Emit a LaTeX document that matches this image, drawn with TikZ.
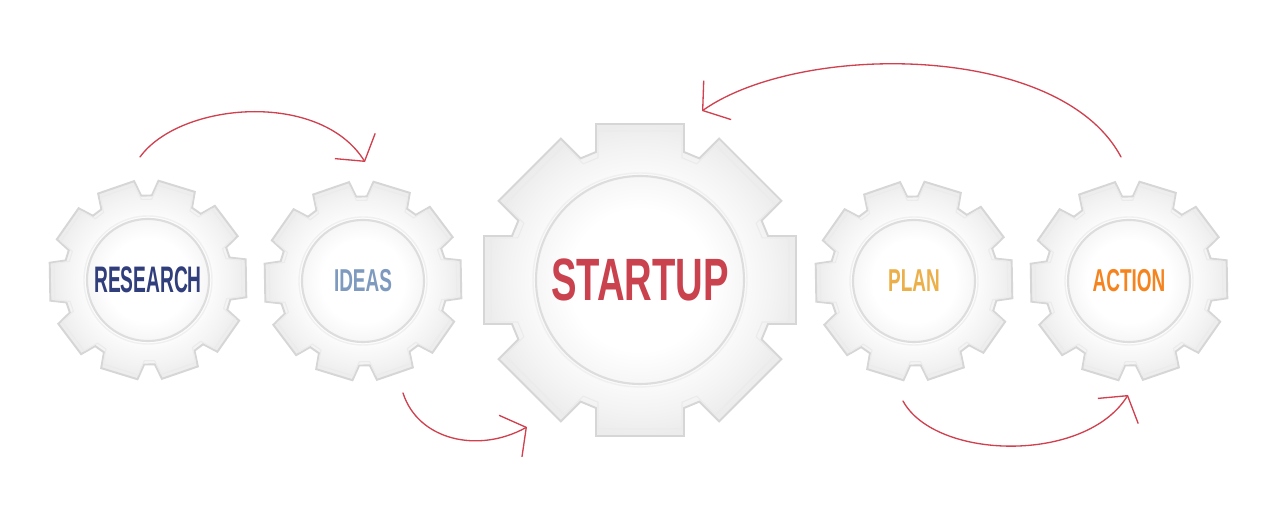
\documentclass[tikz,border=0pt]{standalone}
\usepackage{fontspec}
\usepackage{tikz}
\usetikzlibrary{arrows.meta}                % arrow tips

\newfontfamily\gearfont[FakeStretch=0.6]{Liberation Sans}
\newfontfamily\gearfontnarrow[FakeStretch=0.52]{Liberation Sans}
\newfontfamily\gearfontwide[FakeStretch=0.64]{Liberation Sans}

\definecolor{researchblue}{HTML}{313E7C}
\definecolor{ideasblue}{HTML}{7E9BBF}
\definecolor{startupred}{HTML}{C9424E}
\definecolor{planyellow}{HTML}{EBB04A}
\definecolor{actionorange}{HTML}{F5841F}
\definecolor{arrowred}{HTML}{D0404E}

% shading of the gear body and of the round face (25bp = outer radius)
\pgfdeclareradialshading{gearshade}{\pgfpoint{0bp}{0bp}}{color(0bp)=(white); color(15bp)=(white); color(17bp)=(gray!4); color(21bp)=(gray!9); color(25bp)=(gray!15); color(50bp)=(gray!15)}
\pgfdeclareradialshading{faceshade}{\pgfpoint{0bp}{0bp}}{color(0bp)=(white); color(17bp)=(white); color(25bp)=(gray!7); color(50bp)=(gray!7)}

\tikzset{
  gearrim/.style={draw=gray!32, line width=1.1pt, line join=miter},
  gearbevel/.style={draw=gray!16, line width=0.6pt},
  facering/.style={draw=gray!27, line width=1.2pt},
  gearlabel/.style args={#1/#2}{font=#1\bfseries\fontsize{#2}{#2}\selectfont, inner sep=0pt},
  flow/.style={arrowred, line width=0.75pt, line cap=round,
               -{Straight Barb[length=3.6mm, width=9.5mm, line width=0.75pt]}}
}

% outline of a gear around the origin
\newcommand{\gearoutline}[1]{% #1 first tooth angle
  ({#1-\gar}:\grr)
  \foreach \k in {0,...,\glast}
  { -- ({#1+\k*\gstep-\gar}:\grr) -- ({#1+\k*\gstep-\gat}:\grt)
    -- ({#1+\k*\gstep+\gat}:\grt) -- ({#1+\k*\gstep+\gar}:\grr)
  } -- cycle}

% #1 centre, #2 teeth, #3 tip radius, #4 root radius,
% #5 tip half-width, #6 root half-width, #7 first tooth angle, #8 face radius
\newcommand{\gear}[8]{%
  \pgfmathsetmacro{\gstep}{360/#2}
  \pgfmathtruncatemacro{\glast}{#2-1}
  \pgfmathsetmacro{\gat}{atan(#5/#3)}
  \pgfmathsetmacro{\gar}{atan(#6/#4)}
  \pgfmathsetmacro{\grt}{veclen(#3,#5)}
  \pgfmathsetmacro{\grr}{veclen(#4,#6)}
  \begin{scope}[shift={#1}]
    \shadedraw[shading=gearshade, gearrim] \gearoutline{#7};
    \draw[gearbevel, scale=0.955] \gearoutline{#7};
    \draw[gray!12, line width=0.8pt] (0,0) circle ({#8+3});
    \shadedraw[shading=faceshade, facering] (0,0) circle (#8);
  \end{scope}
}

\begin{document}
\begin{tikzpicture}[x=0.2mm, y=0.2mm]
  \fill[white] (0,0) rectangle (1280,512);
  \useasboundingbox (0,0) rectangle (1280,512);

  % gears
  \gear{(148,232)}{10}{98}{82}{19}{21}{73}{61}
  \gear{(363,231)}{10}{98}{82}{19}{21}{73}{61}
  \gear{(640,232)}{8}{156}{128}{44}{44}{90}{104}
  \gear{(914,231)}{10}{98}{82}{19}{21}{73}{61}
  \gear{(1129,231)}{10}{98}{82}{19}{21}{73}{61}

  % labels
  \node[gearlabel={\gearfontnarrow/21}, text=researchblue] (research) at (148,232) {RESEARCH};
  \node[gearlabel={\gearfont/18}, text=ideasblue] (ideas) at (363,231) {IDEAS};
  \node[gearlabel={\gearfontwide/34}, text=startupred] (startup) at (640,232) {STARTUP};
  \node[gearlabel={\gearfont/18}, text=planyellow] (plan) at (914,231) {PLAN};
  \node[gearlabel={\gearfont/18}, text=actionorange] (action) at (1129,231) {ACTION};

  % arrows
  \draw[flow] ([shift={(-8,123)}]research.center)
    .. controls +(40,55) and +(-45,72) .. ([shift={(2,119)}]ideas.center);
  \draw[flow] ([shift={(40,-112)}]ideas.center)
    .. controls +(15,-47) and +(-49,-27) .. ([shift={(-113,-147)}]startup.center);
  \draw[flow] ([shift={(-11,-120)}]plan.center)
    .. controls +(32,-59) and +(-43,-69) .. ([shift={(-1,-114)}]action.center);
  \draw[flow] ([shift={(-8,124)}]action.center)
    .. controls +(-61,115) and +(98,69) .. ([shift={(62,169)}]startup.center);
\end{tikzpicture}
\end{document}
